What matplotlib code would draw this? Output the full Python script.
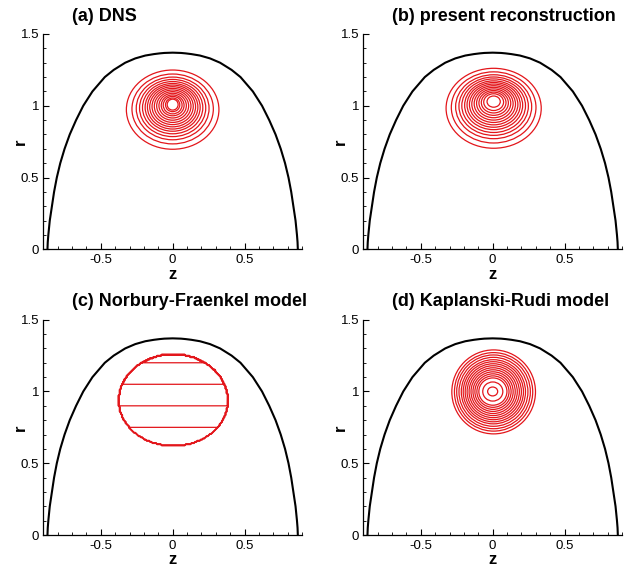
import matplotlib
matplotlib.use('Agg')
import matplotlib.pyplot as plt
from matplotlib.patches import Ellipse
import numpy as np

plt.rcParams['font.family'] = ['Liberation Sans', 'DejaVu Sans']
plt.rcParams['axes.unicode_minus'] = False

# bubble boundary (left half, mirrored)
bubble_r = [0.0, 0.05, 0.1, 0.2, 0.3, 0.4, 0.5, 0.6, 0.7, 0.8, 0.9, 1.0,
            1.1, 1.2, 1.25, 1.3, 1.33, 1.35, 1.36, 1.365, 1.368, 1.37]
bubble_z = [0.871, 0.869, 0.865, 0.855, 0.840, 0.825, 0.806, 0.782, 0.752,
            0.716, 0.672, 0.622, 0.558, 0.472, 0.41, 0.33, 0.26, 0.19, 0.13,
            0.09, 0.058, 0.0]

titles = ['(a) DNS', '(b) present reconstruction',
          '(c) Norbury-Fraenkel model', '(d) Kaplanski-Rudi model']

# vorticity rings: innermost and outermost ring (z, r, half width, half height)
inner_a = (0.0, 1.008, 0.038, 0.038)
outer_a = (0.0, 0.973, 0.322, 0.276)
inner_b = (0.007, 1.029, 0.046, 0.039)
outer_b = (0.007, 0.9825, 0.331, 0.2785)
inner_d = (0.0, 1.0, 0.035, 0.031)
outer_d = (0.007, 0.997, 0.291, 0.2925)

# where each ring sits between innermost (0) and outermost (1)
rings_a = [1.0, 0.863, 0.758, 0.677, 0.605, 0.540, 0.484, 0.428, 0.371,
           0.315, 0.258, 0.202, 0.146, 0.097, 0.041, 0.0]
rings_b = [1.0, 0.872, 0.767, 0.686, 0.616, 0.547, 0.488, 0.430, 0.372,
           0.314, 0.256, 0.198, 0.140, 0.081, 0.0]
rings_d = [1.0, 0.927, 0.864, 0.80, 0.736, 0.682, 0.627, 0.573, 0.518,
           0.464, 0.409, 0.355, 0.30, 0.245, 0.136, 0.0]

# Norbury-Fraenkel core: omega = r inside
nf_core = dict(z0=0.005, r0=0.935, az=0.38, aup=0.325, adn=0.315)
nf_levels = [0.15, 0.3, 0.45, 0.6, 0.75, 0.9, 1.05, 1.2]

red = '#e3161b'


def nf_field(c, Z, R):
    ar = np.where(R > c['r0'], c['aup'], c['adn'])
    d = np.sqrt(((Z - c['z0']) / c['az'])**2 + ((R - c['r0']) / ar)**2)
    return np.where(d <= 1, R, 0.0)


fig = plt.figure(figsize=(6.44, 5.75), dpi=100)
W, H = 644., 575.
boxes = [(43.3, 249.3), (363.3, 249.3), (43.3, 535.0), (363.3, 535.0)]
aw, ah = 258.7, 215.3

zb = np.concatenate([-np.array(bubble_z), np.array(bubble_z[::-1][1:])])
rb = np.concatenate([np.array(bubble_r), np.array(bubble_r[::-1][1:])])

for i, (x0, y0) in enumerate(boxes):
    ax = fig.add_axes([x0 / W, (H - y0) / H, aw / W, ah / H])
    ax.plot(zb, rb, color='black', lw=1.5, solid_joinstyle='round')

    if i == 2:
        z = np.arange(-0.5, 0.5, 0.008)
        r = np.arange(0.5, 1.4, 0.008)
        Z, R = np.meshgrid(z, r)
        ax.contour(Z, R, nf_field(nf_core, Z, R), levels=nf_levels,
                   colors=red, linewidths=0.9)
    else:
        inn = np.array([inner_a, inner_b, None, inner_d][i])
        out = np.array([outer_a, outer_b, None, outer_d][i])
        rings = [rings_a, rings_b, None, rings_d][i]
        for t in rings:
            zc, rc, hw, hh = inn + t * (out - inn)
            ax.add_patch(Ellipse((zc, rc), 2 * hw, 2 * hh, fill=False,
                                 ec=red, lw=0.9))

    ax.set_xlim(-0.9, 0.9)
    ax.set_ylim(0, 1.5)
    for s in ['top', 'right']:
        ax.spines[s].set_visible(False)
    for s in ['left', 'bottom']:
        ax.spines[s].set_linewidth(0.9)
    ax.set_xticks([-0.5, 0, 0.5])
    ax.set_xticklabels(['-0.5', '0', '0.5'])
    ax.set_yticks([0, 0.5, 1, 1.5])
    ax.set_yticklabels(['0', '0.5', '1', '1.5'])
    ax.set_xticks(np.arange(-0.9, 0.91, 0.1), minor=True)
    ax.set_yticks(np.arange(0, 1.51, 0.1), minor=True)
    ax.tick_params(which='major', direction='in', length=4.3, width=0.8,
                   labelsize=9.5)
    ax.tick_params(axis='x', which='major', pad=3.5)
    ax.tick_params(axis='y', which='major', pad=3)
    ax.tick_params(which='minor', direction='in', length=2.2, width=0.6)

    ax.text(0.11, 1 + 13.3 / ah, titles[i], transform=ax.transAxes,
            fontsize=13, fontweight='bold', ha='left', va='baseline')
    ax.text(0.5, -29.5 / ah, 'z', transform=ax.transAxes, fontsize=12,
            fontweight='bold', ha='center', va='baseline')
    ax.text(-22.5 / aw, 0.5, 'r', transform=ax.transAxes, fontsize=12,
            fontweight='bold', ha='center', va='center', rotation=90)

fig.savefig('out.png', dpi=100)
